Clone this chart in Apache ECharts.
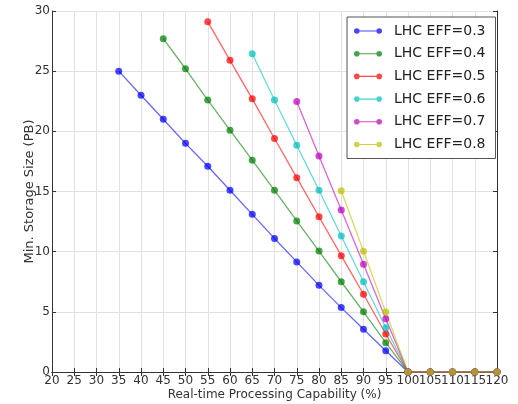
<!DOCTYPE html>
<html>
<head>
<meta charset="utf-8">
<script src="https://cdn.jsdelivr.net/npm/echarts@6/dist/echarts.min.js"></script>
<style>html,body{margin:0;padding:0;background:#fff}#c{width:518px;height:404px}</style>
</head>
<body>
<div id="c"></div>
<script>
var xValues = [20,25,30,35,40,45,50,55,60,65,70,75,80,85,90,95,100,105,110,115,120];
var seriesNames = ['LHC EFF=0.3','LHC EFF=0.4','LHC EFF=0.5','LHC EFF=0.6','LHC EFF=0.7','LHC EFF=0.8'];
var eff03 = [null,null,null,25.0,23.0,21.0,19.0,17.1,15.1,13.1,11.1,9.15,7.2,5.35,3.55,1.77,0,0,0,0,0];
var eff04 = [null,null,null,null,null,27.7,25.2,22.6,20.1,17.6,15.1,12.55,10.05,7.5,5.0,2.44,0,0,0,0,0];
var eff05 = [null,null,null,null,null,null,null,29.1,25.9,22.7,19.4,16.15,12.9,9.67,6.46,3.16,0,0,0,0,0];
var eff06 = [null,null,null,null,null,null,null,null,null,26.45,22.6,18.85,15.1,11.3,7.5,3.68,0,0,0,0,0];
var eff07 = [null,null,null,null,null,null,null,null,null,null,null,22.47,17.96,13.47,8.95,4.43,0,0,0,0,0];
var eff08 = [null,null,null,null,null,null,null,null,null,null,null,null,null,15.07,10.03,4.99,0,0,0,0,0];
var allValues = [eff03, eff04, eff05, eff06, eff07, eff08];
var colors = ['#0000ff','#008000','#ff0000','#00bfbf','#bf00bf','#bfbf00'];
var xMin = 20, xMax = 120, xStep = 5;

var FONT = 'DejaVu Sans';
var dumbbell = 'path://M3,3.4 L27,3.4 L27,4.6 L3,4.6 Z M0,4 A3,3 0 1,1 6,4 A3,3 0 1,1 0,4 Z M24,4 A3,3 0 1,1 30,4 A3,3 0 1,1 24,4 Z';

var series = allValues.map(function (vals, i) {
  var data = [];
  for (var k = 0; k < xValues.length; k++) {
    if (vals[k] !== null) data.push([xValues[k], vals[k]]);
  }
  return {
    name: seriesNames[i],
    type: 'line',
    data: data,
    symbol: 'circle',
    symbolSize: 7,
    showSymbol: true,
    itemStyle: { color: colors[i], opacity: 0.72 },
    lineStyle: { color: colors[i], width: 1.3, opacity: 0.6 },
    emphasis: { disabled: true },
    animation: false
  };
});

var axisLine = { show: true, lineStyle: { color: '#333', width: 1 } };
var axisTick = { show: true, inside: true, length: 4, lineStyle: { color: '#333' } };
var gridLine = { show: true, lineStyle: { color: '#e2e2e2', type: 'solid', width: 1 } };
var xLabelStyle = { fontFamily: FONT, fontSize: 12, color: '#333', margin: 3, hideOverlap: false };

var option = {
  animation: false,
  color: colors,
  grid: { left: 52, right: 21, top: 11, bottom: 32, show: false, outerBoundsMode: 'none', containLabel: false },
  legend: {
    orient: 'vertical',
    left: 347,
    top: 17,
    data: seriesNames,
    icon: dumbbell,
    itemWidth: 28,
    itemHeight: 8,
    itemGap: 8.7,
    padding: [7, 10, 7, 7],
    borderColor: '#555',
    borderWidth: 1,
    backgroundColor: '#fff',
    textStyle: { fontFamily: FONT, fontSize: 14, color: '#222', padding: [0, 0, 0, 7] }
  },
  xAxis: [{
    type: 'value', min: xMin, max: xMax, interval: xStep, position: 'bottom',
    name: 'Real-time Processing Capability (%)', nameLocation: 'middle', nameGap: 17,
    nameMoveOverlap: false,
    nameTextStyle: { fontFamily: FONT, fontSize: 12, color: '#333' },
    axisLine: axisLine, axisTick: axisTick,
    axisLabel: Object.assign({}, xLabelStyle, { showMinLabel: true, showMaxLabel: false }),
    splitLine: gridLine
  }, {
    type: 'value', min: xMin, max: xMax, interval: xStep, position: 'top',
    axisLine: axisLine, axisTick: axisTick,
    axisLabel: { show: false }, splitLine: { show: false }
  }, {
    type: 'value', min: xMin, max: xMax, interval: xStep, position: 'bottom', offset: 0,
    axisLine: { show: false }, axisTick: { show: false }, splitLine: { show: false },
    axisLabel: Object.assign({}, xLabelStyle, {
      showMinLabel: false, showMaxLabel: true,
      formatter: function (v) { return v === xMax ? String(v) : ''; }
    })
  }],
  yAxis: [{
    type: 'value', min: 0, max: 30, interval: 5, position: 'left',
    name: 'Min. Storage Size (PB)', nameLocation: 'middle', nameGap: 16,
    nameMoveOverlap: false,
    nameTextStyle: { fontFamily: FONT, fontSize: 13, color: '#333' },
    axisLine: axisLine, axisTick: axisTick,
    axisLabel: { fontFamily: FONT, fontSize: 12, color: '#333', margin: 2 },
    splitLine: gridLine
  }, {
    type: 'value', min: 0, max: 30, interval: 5, position: 'right',
    axisLine: axisLine, axisTick: axisTick,
    axisLabel: { show: false }, splitLine: { show: false }
  }],
  series: series
};

var chart = echarts.init(document.getElementById('c'), null, { renderer: 'canvas' });
chart.setOption(option);
</script>
</body>
</html>
